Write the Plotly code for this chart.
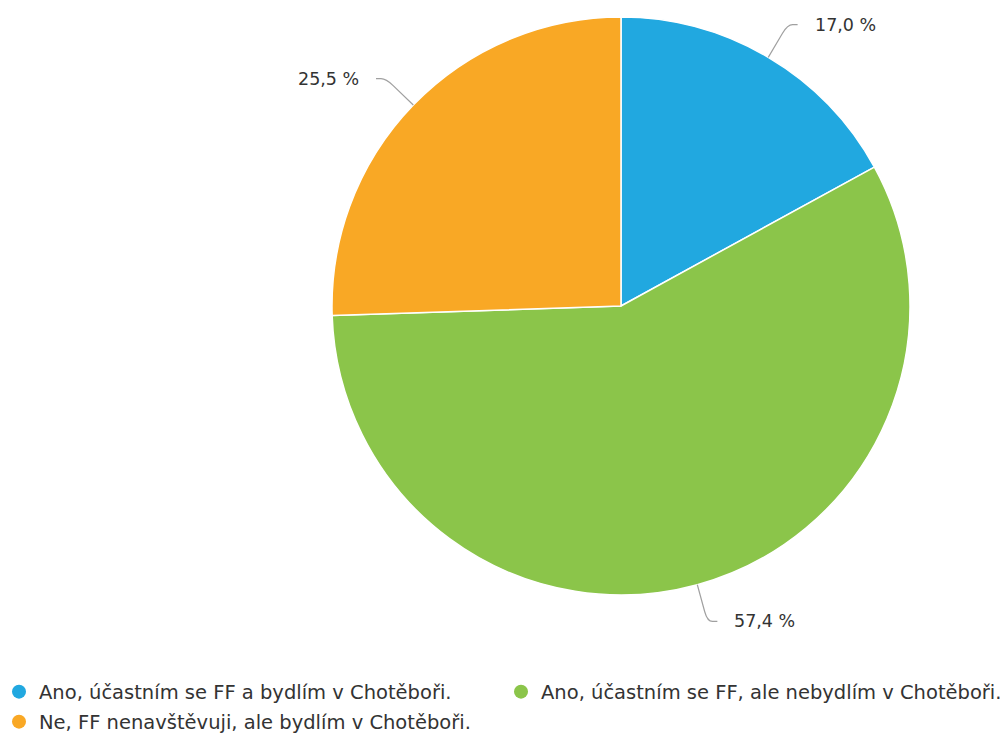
import math
import plotly.graph_objects as go

labels = [
    "Ano, účastním se FF a bydlím v Chotěboři.",
    "Ano, účastním se FF, ale nebydlím v Chotěboři.",
    "Ne, FF nenavštěvuji, ale bydlím v Chotěboři.",
]
values = [17.0, 57.4, 25.5]
value_text = ["17,0 %", "57,4 %", "25,5 %"]
colors = ["#21a8e0", "#8bc54a", "#f9a825"]
legend_ids = ["legend", "legend2", "legend3"]

# page is 1004x738; body margin removed via post_script, so work in page pixels
W, H, OFF = 1004, 738, 0
CX, CY, R = 621, 306, 289
FONT = "DejaVu Sans"


def px_x(x):
    return (x - OFF) / W


def px_y(y):
    return 1 - (y - OFF) / H


fig = go.Figure()

fig.add_trace(go.Pie(
    labels=labels,
    values=values,
    sort=False,
    direction="clockwise",
    rotation=0,
    marker=dict(colors=colors, line=dict(color="white", width=1.5)),
    textinfo="none",
    hoverinfo="label+percent",
    showlegend=False,
    domain=dict(x=[px_x(CX - R), px_x(CX + R)], y=[px_y(CY + R), px_y(CY - R)]),
))

# legend entries with circle markers
for lab, col, lg in zip(labels, colors, legend_ids):
    fig.add_trace(go.Scatter(
        x=[None], y=[None], mode="markers", name=lab, legend=lg,
        marker=dict(symbol="circle", size=14, color=col),
        showlegend=True, hoverinfo="skip",
    ))

# leader lines and outside labels computed from the data
total = sum(values)
cum = 0.0
shapes = []
annotations = []
for v, t in zip(values, value_text):
    mid = (cum + v / 2) / total * 2 * math.pi
    cum += v
    s, c = math.sin(mid), math.cos(mid)
    side = 1 if s >= 0 else -1
    x0, y0 = CX + R * s, CY - R * c
    xa, ya = CX + (R + 28) * s, CY - (R + 28) * c
    x1, y1 = CX + (R + 38) * s, CY - (R + 38) * c
    xb, yb = x1 + side * 5, y1
    x2, y2 = x1 + side * 10, y1
    shapes.append(dict(
        type="path", xref="x", yref="y",
        path=f"M {x0},{y0} L {xa},{ya} Q {x1},{y1} {xb},{yb} L {x2},{y2}",
        line=dict(color="#a0a0a0", width=1.2),
    ))
    annotations.append(dict(
        x=x2 + side * 15, y=y2, xref="x", yref="y", text=t, showarrow=False,
        xanchor="left" if side > 0 else "right", yanchor="middle",
        font=dict(family=FONT, size=17.5, color="#333333"),
    ))

legend_common = dict(
    orientation="h", xanchor="left", yanchor="middle",
    font=dict(family=FONT, size=19.5, color="#333333"),
    bgcolor="rgba(0,0,0,0)",
)

fig.update_layout(
    width=W, height=H,
    margin=dict(l=0, r=0, t=0, b=0, autoexpand=False),
    paper_bgcolor="white", plot_bgcolor="rgba(0,0,0,0)",
    xaxis=dict(range=[OFF, OFF + W], visible=False, domain=[0, 1], fixedrange=True),
    yaxis=dict(range=[OFF + H, OFF], visible=False, domain=[0, 1], fixedrange=True),
    shapes=shapes,
    annotations=annotations,
    legend=dict(x=px_x(-1), y=px_y(692), **legend_common),
    legend2=dict(x=px_x(501), y=px_y(692), **legend_common),
    legend3=dict(x=px_x(-1), y=px_y(722), **legend_common),
    showlegend=True,
)

fig.write_html(
    "out.html",
    config={"displayModeBar": False},
    post_script="document.body.style.margin='0px';document.body.style.overflow='hidden';",
)
